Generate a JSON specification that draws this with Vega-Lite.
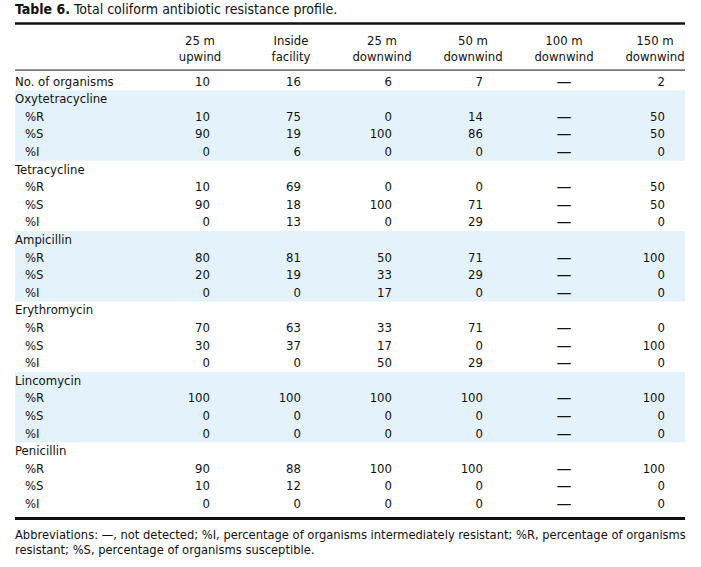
{
  "$schema": "https://vega.github.io/schema/vega-lite/v6.json",
  "width": 701,
  "height": 567,
  "autosize": "none",
  "padding": 0,
  "background": "white",
  "config": {"view": {"stroke": null}, "text": {"font": "DejaVu Sans Condensed", "fontSize": 13, "color": "#111"}},
  "datasets": {
    "columns": [
      {"name": "25 m upwind", "idx": 1, "header": "25 m\nupwind"},
      {"name": "Inside facility", "idx": 2, "header": "Inside\nfacility"},
      {"name": "25 m downwind", "idx": 3, "header": "25 m\ndownwind"},
      {"name": "50 m downwind", "idx": 4, "header": "50 m\ndownwind"},
      {"name": "100 m downwind", "idx": 5, "header": "100 m\ndownwind"},
      {"name": "150 m downwind", "idx": 6, "header": "150 m\ndownwind"}
    ],
    "table": [
      {"r": 0, "label": "No. of organisms", "kind": "top", "25 m upwind": "10", "Inside facility": "16", "25 m downwind": "6", "50 m downwind": "7", "100 m downwind": "—", "150 m downwind": "2"},
      {"r": 1, "label": "Oxytetracycline", "kind": "group"},
      {"r": 2, "label": "%R", "kind": "sub", "25 m upwind": "10", "Inside facility": "75", "25 m downwind": "0", "50 m downwind": "14", "100 m downwind": "—", "150 m downwind": "50"},
      {"r": 3, "label": "%S", "kind": "sub", "25 m upwind": "90", "Inside facility": "19", "25 m downwind": "100", "50 m downwind": "86", "100 m downwind": "—", "150 m downwind": "50"},
      {"r": 4, "label": "%I", "kind": "sub", "25 m upwind": "0", "Inside facility": "6", "25 m downwind": "0", "50 m downwind": "0", "100 m downwind": "—", "150 m downwind": "0"},
      {"r": 5, "label": "Tetracycline", "kind": "group"},
      {"r": 6, "label": "%R", "kind": "sub", "25 m upwind": "10", "Inside facility": "69", "25 m downwind": "0", "50 m downwind": "0", "100 m downwind": "—", "150 m downwind": "50"},
      {"r": 7, "label": "%S", "kind": "sub", "25 m upwind": "90", "Inside facility": "18", "25 m downwind": "100", "50 m downwind": "71", "100 m downwind": "—", "150 m downwind": "50"},
      {"r": 8, "label": "%I", "kind": "sub", "25 m upwind": "0", "Inside facility": "13", "25 m downwind": "0", "50 m downwind": "29", "100 m downwind": "—", "150 m downwind": "0"},
      {"r": 9, "label": "Ampicillin", "kind": "group"},
      {"r": 10, "label": "%R", "kind": "sub", "25 m upwind": "80", "Inside facility": "81", "25 m downwind": "50", "50 m downwind": "71", "100 m downwind": "—", "150 m downwind": "100"},
      {"r": 11, "label": "%S", "kind": "sub", "25 m upwind": "20", "Inside facility": "19", "25 m downwind": "33", "50 m downwind": "29", "100 m downwind": "—", "150 m downwind": "0"},
      {"r": 12, "label": "%I", "kind": "sub", "25 m upwind": "0", "Inside facility": "0", "25 m downwind": "17", "50 m downwind": "0", "100 m downwind": "—", "150 m downwind": "0"},
      {"r": 13, "label": "Erythromycin", "kind": "group"},
      {"r": 14, "label": "%R", "kind": "sub", "25 m upwind": "70", "Inside facility": "63", "25 m downwind": "33", "50 m downwind": "71", "100 m downwind": "—", "150 m downwind": "0"},
      {"r": 15, "label": "%S", "kind": "sub", "25 m upwind": "30", "Inside facility": "37", "25 m downwind": "17", "50 m downwind": "0", "100 m downwind": "—", "150 m downwind": "100"},
      {"r": 16, "label": "%I", "kind": "sub", "25 m upwind": "0", "Inside facility": "0", "25 m downwind": "50", "50 m downwind": "29", "100 m downwind": "—", "150 m downwind": "0"},
      {"r": 17, "label": "Lincomycin", "kind": "group"},
      {"r": 18, "label": "%R", "kind": "sub", "25 m upwind": "100", "Inside facility": "100", "25 m downwind": "100", "50 m downwind": "100", "100 m downwind": "—", "150 m downwind": "100"},
      {"r": 19, "label": "%S", "kind": "sub", "25 m upwind": "0", "Inside facility": "0", "25 m downwind": "0", "50 m downwind": "0", "100 m downwind": "—", "150 m downwind": "0"},
      {"r": 20, "label": "%I", "kind": "sub", "25 m upwind": "0", "Inside facility": "0", "25 m downwind": "0", "50 m downwind": "0", "100 m downwind": "—", "150 m downwind": "0"},
      {"r": 21, "label": "Penicillin", "kind": "group"},
      {"r": 22, "label": "%R", "kind": "sub", "25 m upwind": "90", "Inside facility": "88", "25 m downwind": "100", "50 m downwind": "100", "100 m downwind": "—", "150 m downwind": "100"},
      {"r": 23, "label": "%S", "kind": "sub", "25 m upwind": "10", "Inside facility": "12", "25 m downwind": "0", "50 m downwind": "0", "100 m downwind": "—", "150 m downwind": "0"},
      {"r": 24, "label": "%I", "kind": "sub", "25 m upwind": "0", "Inside facility": "0", "25 m downwind": "0", "50 m downwind": "0", "100 m downwind": "—", "150 m downwind": "0"}
    ],
    "bands": [
      {"group": "Oxytetracycline", "first": 1, "last": 4},
      {"group": "Ampicillin", "first": 9, "last": 12},
      {"group": "Lincomycin", "first": 17, "last": 20}
    ],
    "notes": [
      {"part": "bold", "text": "Table 6."},
      {"part": "rest", "text": "Total coliform antibiotic resistance profile."}
    ],
    "footnote": [
      {"text": "Abbreviations: —, not detected; %I, percentage of organisms intermediately resistant; %R, percentage of organisms\nresistant; %S, percentage of organisms susceptible."}
    ]
  },
  "layer": [
    {
      "data": {"name": "bands"},
      "mark": {"type": "rect", "color": "#e4f3fb", "yOffset": -8.8, "y2Offset": 8.8},
      "encoding": {
        "x": {"datum": -1.033, "type": "quantitative", "scale": {"domain": [-1.1978, 6.5055], "nice": false, "zero": false}, "axis": null},
        "x2": {"datum": 6.33},
        "y": {"field": "first", "type": "quantitative", "scale": {"domain": [-4.631, 27.585], "nice": false, "zero": false, "reverse": true}, "axis": null},
        "y2": {"field": "last"}
      }
    },
    {
      "data": {"values": [{"rule": "top"}]},
      "mark": {"type": "rule", "color": "#111", "strokeWidth": 2.5},
      "encoding": {"x": {"datum": -1.033, "type": "quantitative"}, "x2": {"datum": 6.33}, "y": {"datum": -3.3, "type": "quantitative"}}
    },
    {
      "data": {"values": [{"rule": "header"}]},
      "mark": {"type": "rule", "color": "#111", "strokeWidth": 1},
      "encoding": {"x": {"datum": -1.033, "type": "quantitative"}, "x2": {"datum": 6.33}, "y": {"datum": -0.65, "type": "quantitative"}}
    },
    {
      "data": {"values": [{"rule": "bottom"}]},
      "mark": {"type": "rule", "color": "#111", "strokeWidth": 3},
      "encoding": {"x": {"datum": -1.033, "type": "quantitative"}, "x2": {"datum": 6.33}, "y": {"datum": 24.83, "type": "quantitative"}}
    },
    {
      "data": {"name": "notes"},
      "transform": [{"filter": "datum.part === 'bold'"}],
      "mark": {"type": "text", "align": "left", "baseline": "middle", "fontWeight": "bold", "fontSize": 14},
      "encoding": {"x": {"datum": -1.033, "type": "quantitative"}, "y": {"datum": -4.06, "type": "quantitative"}, "text": {"field": "text"}}
    },
    {
      "data": {"name": "notes"},
      "transform": [{"filter": "datum.part === 'rest'"}],
      "mark": {"type": "text", "align": "left", "baseline": "middle", "dx": 59, "fontSize": 14},
      "encoding": {"x": {"datum": -1.033, "type": "quantitative"}, "y": {"datum": -4.06, "type": "quantitative"}, "text": {"field": "text"}}
    },
    {
      "data": {"name": "columns"},
      "mark": {"type": "text", "align": "center", "baseline": "middle", "lineBreak": "\n", "lineHeight": 16},
      "encoding": {"x": {"field": "idx", "type": "quantitative"}, "y": {"datum": -2.3, "type": "quantitative"}, "text": {"field": "header"}}
    },
    {
      "data": {"name": "table"},
      "transform": [{"filter": "datum.kind !== 'sub'"}],
      "mark": {"type": "text", "align": "left", "baseline": "middle"},
      "encoding": {"x": {"datum": -1.033, "type": "quantitative"}, "y": {"field": "r", "type": "quantitative"}, "text": {"field": "label"}}
    },
    {
      "data": {"name": "table"},
      "transform": [{"filter": "datum.kind === 'sub'"}],
      "mark": {"type": "text", "align": "left", "baseline": "middle", "dx": 10},
      "encoding": {"x": {"datum": -1.033, "type": "quantitative"}, "y": {"field": "r", "type": "quantitative"}, "text": {"field": "label"}}
    },
    {
      "data": {"name": "table"},
      "transform": [
        {"fold": ["25 m upwind", "Inside facility", "25 m downwind", "50 m downwind", "100 m downwind", "150 m downwind"], "as": ["col", "v"]},
        {"filter": "datum.v != null && datum.v !== '—'"},
        {"lookup": "col", "from": {"data": {"name": "columns"}, "key": "name", "fields": ["idx"]}}
      ],
      "mark": {"type": "text", "align": "right", "baseline": "middle", "dx": 10},
      "encoding": {"x": {"field": "idx", "type": "quantitative"}, "y": {"field": "r", "type": "quantitative"}, "text": {"field": "v"}}
    },
    {
      "data": {"name": "table"},
      "transform": [
        {"fold": ["25 m upwind", "Inside facility", "25 m downwind", "50 m downwind", "100 m downwind", "150 m downwind"], "as": ["col", "v"]},
        {"filter": "datum.v === '—'"},
        {"lookup": "col", "from": {"data": {"name": "columns"}, "key": "name", "fields": ["idx"]}}
      ],
      "mark": {"type": "text", "align": "center", "baseline": "middle", "font": "DejaVu Sans", "fontSize": 15},
      "encoding": {"x": {"field": "idx", "type": "quantitative"}, "y": {"field": "r", "type": "quantitative"}, "text": {"field": "v"}}
    },
    {
      "data": {"name": "footnote"},
      "mark": {"type": "text", "align": "left", "baseline": "middle", "lineBreak": "\n", "lineHeight": 15, "fontSize": 12.8},
      "encoding": {"x": {"datum": -1.033, "type": "quantitative"}, "y": {"datum": 25.77, "type": "quantitative"}, "text": {"field": "text"}}
    }
  ]
}
